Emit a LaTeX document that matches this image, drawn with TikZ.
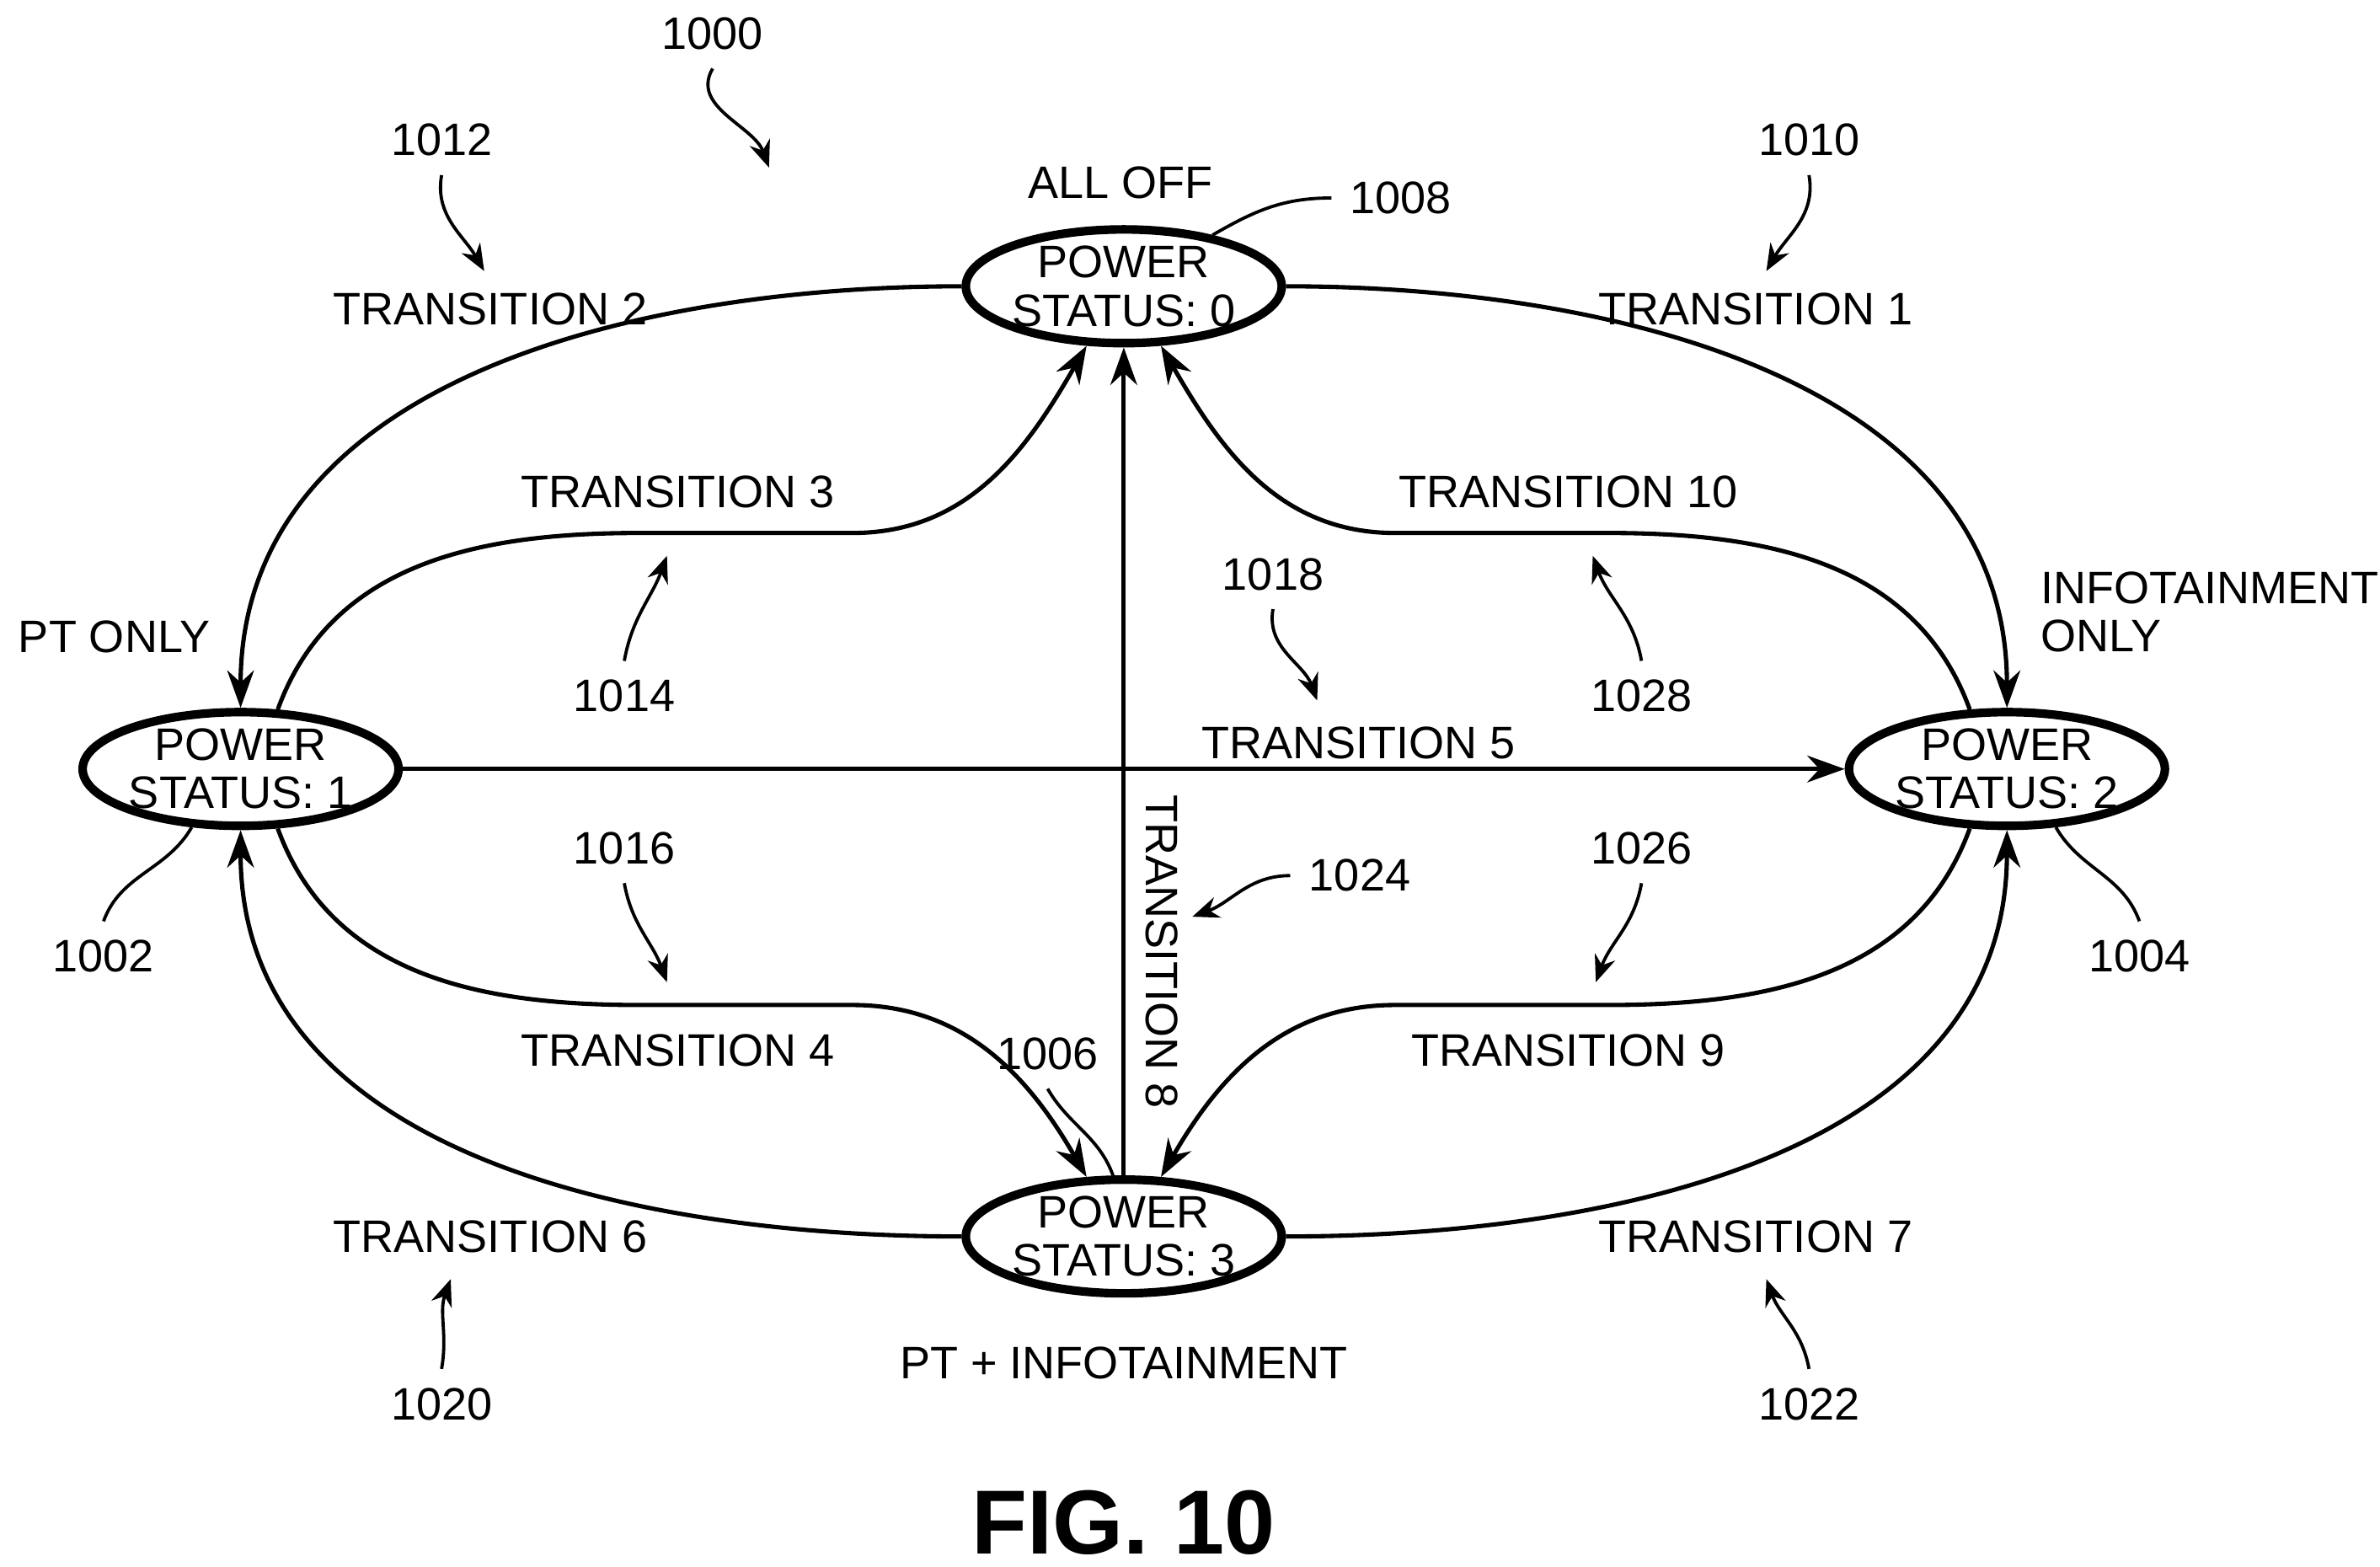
\documentclass[tikz,border=0pt]{standalone}
\usepackage{fontspec}
\setmainfont{Liberation Sans}
\usetikzlibrary{positioning,arrows.meta,shapes.geometric}

\begin{document}
\begin{tikzpicture}[
    x=0.01cm, y=-0.01cm,
    >={Stealth[length=7pt,width=5pt]},
    state/.style={draw, line width=1.6pt, ellipse, minimum width=2cm,
                  minimum height=0.7cm, inner sep=0pt, align=center,
                  font=\fontsize{8.5}{9}\selectfont},
    lbl/.style={font=\fontsize{8.5}{9}\selectfont, align=center},
    ref/.style={font=\fontsize{8.5}{9}\selectfont},
    edge/.style={->, thick},
    lead/.style={-{Stealth[length=5pt,width=4pt]}, semithick},
    tie/.style={semithick},
]
\useasboundingbox (0,0) rectangle (1563,1029);

% States
\node[state] (s0) at (738,188) {POWER\\STATUS: 0};
\node[state] (s1) at (158,505) {POWER\\STATUS: 1};
\node[state] (s2) at (1318,505) {POWER\\STATUS: 2};
\node[state] (s3) at (738,812) {POWER\\STATUS: 3};

% State names
\node[lbl] at (736,120) {ALL OFF};
\node[lbl] at (75,418) {PT ONLY};
\node[lbl, align=left, anchor=west] at (1328,402) {INFOTAINMENT\\ONLY};
\node[lbl] at (738,895) {PT + INFOTAINMENT};

% Transitions
\draw[edge] (s0.west) to[out=180,in=90] (s1.north);
\draw[edge] (s0.east) to[out=0,in=90] (s2.north);
\draw[edge] (s3.west) to[out=180,in=-90] (s1.south);
\draw[edge] (s3.east) to[out=0,in=-90] (s2.south);
\draw[edge] (s1.east) -- (s2.west);
\draw[edge] (s3.north) -- (s0.south);
\draw[edge] (s1.58) to[out=70,in=180] (420,350) -- (560,350)
    to[out=0,in=-120] (s0.238);
\draw[edge] (s2.122) to[out=110,in=0] (1056,350) -- (916,350)
    to[out=180,in=-60] (s0.302);
\draw[edge] (s1.-58) to[out=-70,in=180] (420,660) -- (560,660)
    to[out=0,in=120] (s3.122);
\draw[edge] (s2.-122) to[out=-110,in=0] (1056,660) -- (916,660)
    to[out=180,in=60] (s3.58);

% Transition labels
\node[lbl] at (322,203) {TRANSITION 2};
\node[lbl] at (1153,203) {TRANSITION 1};
\node[lbl] at (445,323) {TRANSITION 3};
\node[lbl] at (1030,323) {TRANSITION 10};
\node[lbl] at (892,488) {TRANSITION 5};
\node[lbl] at (445,690) {TRANSITION 4};
\node[lbl] at (1030,690) {TRANSITION 9};
\node[lbl] at (322,812) {TRANSITION 6};
\node[lbl] at (1153,812) {TRANSITION 7};
\node[lbl, rotate=-90] at (763,625) {TRANSITION 8};

% Reference numerals
\node[ref] (r1000) at (468,22) {1000};
\node[ref] (r1012) at (290,92) {1012};
\node[ref] (r1010) at (1188,92) {1010};
\node[ref] (r1008) at (920,130) {1008};
\node[ref] (r1014) at (410,457) {1014};
\node[ref] (r1028) at (1078,457) {1028};
\node[ref] (r1018) at (836,377) {1018};
\node[ref] (r1016) at (410,557) {1016};
\node[ref] (r1026) at (1078,557) {1026};
\node[ref] (r1024) at (893,575) {1024};
\node[ref] (r1002) at (68,628) {1002};
\node[ref] (r1004) at (1405,628) {1004};
\node[ref] (r1006) at (688,692) {1006};
\node[ref] (r1020) at (290,922) {1020};
\node[ref] (r1022) at (1188,922) {1022};

% Leaders
\coordinate (p1000) at (505,110);
\coordinate (p1012) at (318,178);
\coordinate (p1010) at (1160,178);
\coordinate (p1014) at (438,365);
\coordinate (p1028) at (1046,365);
\coordinate (p1018) at (865,460);
\coordinate (p1016) at (438,645);
\coordinate (p1026) at (1048,645);
\coordinate (p1024) at (783,602);
\coordinate (p1020) at (296,840);
\coordinate (p1022) at (1160,840);
\draw[lead] (r1000.south) to[out=-120,in=110] (p1000);
\draw[lead] (r1012.south) to[out=-100,in=120] (p1012);
\draw[lead] (r1010.south) to[out=-80,in=60] (p1010);
\draw[lead] (r1014.north) to[out=80,in=-110] (p1014);
\draw[lead] (r1028.north) to[out=100,in=-70] (p1028);
\draw[lead] (r1018.south) to[out=-100,in=110] (p1018);
\draw[lead] (r1016.south) to[out=-80,in=110] (p1016);
\draw[lead] (r1026.south) to[out=-100,in=70] (p1026);
\draw[lead] (r1024.west) to[out=180,in=20] (p1024);
\draw[lead] (r1020.north) to[out=80,in=-110] (p1020);
\draw[lead] (r1022.north) to[out=100,in=-70] (p1022);
\draw[tie] (r1008.west) to[out=180,in=30] (s0.30);
\draw[tie] (r1002.north) to[out=70,in=-120] (s1.-130);
\draw[tie] (r1004.north) to[out=110,in=-60] (s2.-50);
\draw[tie] (r1006.south) to[out=-60,in=110] (s3.100);

% Figure caption
\node[font=\bfseries\fontsize{17}{18}\selectfont] (fig) at (738,1000) {FIG. 10};
\end{tikzpicture}
\end{document}
